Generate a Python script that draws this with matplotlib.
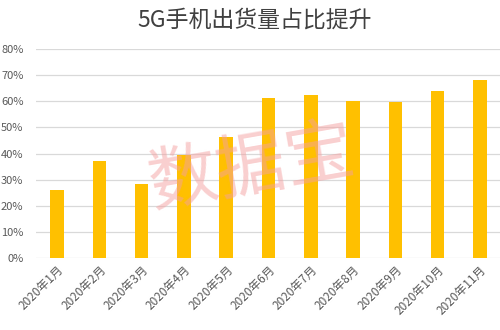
import matplotlib
matplotlib.use("Agg")
import matplotlib.pyplot as plt
from matplotlib.ticker import MultipleLocator, FuncFormatter

plt.rcParams['font.family'] = ['Noto Sans CJK SC', 'DejaVu Sans']

months = ["2020年1月", "2020年2月", "2020年3月", "2020年4月", "2020年5月", "2020年6月",
          "2020年7月", "2020年8月", "2020年9月", "2020年10月", "2020年11月"]
share = [26.0, 37.1, 28.3, 39.4, 46.5, 61.2, 62.3, 60.2, 59.8, 64.1, 68.2]

title = "5G手机出货量占比提升"
watermark = "数据宝"

fig = plt.figure(figsize=(5, 3.3), dpi=100)
ax = fig.add_axes([0.072, 0.218, 0.93, 0.6333])

x = range(len(months))
ax.bar(x, share, width=0.32, color="#FFC000", zorder=3)

ax.set_ylim(0, 80)
ax.set_xlim(-0.5, len(months) - 0.5)
ax.yaxis.set_major_locator(MultipleLocator(10))
ax.yaxis.set_major_formatter(FuncFormatter(lambda v, p: f"{int(v)}%"))
ax.grid(axis="y", color="#D9D9D9", linewidth=0.9, zorder=0)
for s in ax.spines.values():
    s.set_visible(False)
ax.tick_params(axis="both", length=0, colors="#595959", labelsize=8)
ax.tick_params(axis="y", pad=9)
ax.tick_params(axis="x", pad=4)
ax.set_xticks(list(x))
ax.set_xticklabels(months, rotation=45, ha="right", rotation_mode="anchor", fontsize=8.5)

fig.text(0.51, 0.94, title, ha="center", va="center", fontsize=16.5, color="#404040")

fig.text(0.502, 0.49, watermark, ha="center", va="center", fontsize=50,
         fontweight="light", color="#F4A0A0", alpha=0.5, rotation=10, zorder=10)

fig.savefig("out.png", dpi=100)
